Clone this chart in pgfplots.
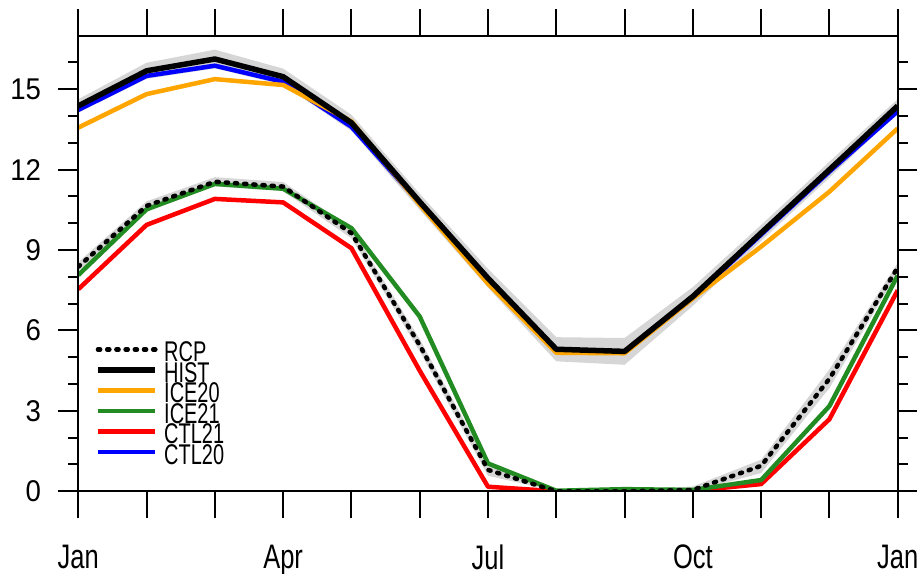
\documentclass[border=0pt]{standalone}
\usepackage{fontspec}
\setmainfont{Liberation Sans}
\newfontfamily\yfont[FakeStretch=0.92]{Liberation Sans}
\newfontfamily\xfont[FakeStretch=0.75]{Liberation Sans}
\newfontfamily\legfont[FakeStretch=0.70]{Liberation Sans}
\usepackage{pgfplots}
\pgfplotsset{compat=1.18}
\definecolor{ncorange}{HTML}{FFA500}
\definecolor{ncgreen}{HTML}{228B22}
\definecolor{ncred}{HTML}{FF0000}
\definecolor{ncblue}{HTML}{0000FF}
\definecolor{ncband}{HTML}{D6D6D6}
\begin{document}
\begin{tikzpicture}
\useasboundingbox (0,0) rectangle (917bp,574bp);
% main axis: data, y ticks, legend
\begin{axis}[
  at={(78.3bp,82.7bp)}, anchor=south west,
  scale only axis, width=819.4bp, height=455.6bp,
  xmin=0, xmax=12, ymin=0, ymax=17,
  axis line style={line width=2bp},
  tick align=outside, tick pos=both,
  xtick=\empty,
  ytick={0,3,...,15},
  minor ytick={1,2,4,5,7,8,10,11,13,14,16},
  major tick length=20bp, minor tick length=10bp,
  every tick/.style={line width=2bp, black},
  /pgf/number format/assume math mode=true,
  yticklabel style={font=\fontsize{30bp}{30bp}\selectfont\yfont, inner sep=0pt, xshift=-17bp},
  reverse legend,
  legend style={at={(axis cs:0.245,5.76)}, anchor=north west, draw=none, fill=none, inner sep=0pt,
    column sep=6bp, row sep=-4.3bp,
    font=\fontsize{28.5bp}{28.5bp}\selectfont\legfont,
    nodes={inner sep=0pt, text height=24.8bp, text depth=0bp}},
  legend cell align=left,
  legend image code/.code={\draw[#1] (2.25bp,0bp) -- (59.75bp,0bp);},
]
% HIST spread band
\addplot[fill=ncband, draw=none, forget plot] coordinates {
 (0,14.63)(1,15.99)(2,16.48)(3,15.77)(4,14.05)(5,11.1)(6,8.3)(7,5.75)(8,5.72)(9,7.62)(10,9.94)(11,12.3)(12,14.63)
 (12,14.13)(11,11.7)(10,9.34)(9,6.92)(8,4.72)(7,4.85)(6,7.6)(5,10.5)(4,13.45)(3,15.17)(2,15.78)(1,15.39)(0,14.13)} -- cycle;
% RCP spread band
\addplot[fill=ncband, draw=none, forget plot] coordinates {
 (0,8.55)(1,10.82)(2,11.72)(3,11.54)(4,9.82)(5,5.68)(6,1.02)(7,0.06)(8,0.06)(9,0.18)(10,1.18)(11,4.55)(12,8.52)
 (12,8.18)(11,3.85)(10,0.68)(9,0)(8,0)(7,0)(6,0.58)(5,5.22)(4,9.44)(3,11.2)(2,11.38)(1,10.48)(0,8.21)} -- cycle;
% CTL20
\addplot[ncblue, line width=4.5bp, line join=round] coordinates {
 (0,14.23)(1,15.50)(2,15.88)(3,15.28)(4,13.60)(5,10.75)(6,7.90)(7,5.28)(8,5.20)(9,7.22)(10,9.58)(11,11.93)(12,14.18)};
\addlegendentry{CTL20}
% CTL21
\addplot[ncred, line width=4.5bp, line join=round] coordinates {
 (0,7.54)(1,9.94)(2,10.91)(3,10.78)(4,9.07)(5,4.50)(6,0.17)(7,0.0)(8,0.0)(9,0.02)(10,0.27)(11,2.69)(12,7.50)};
\addlegendentry{CTL21}
% ICE21
\addplot[ncgreen, line width=4.5bp, line join=round] coordinates {
 (0,8.07)(1,10.52)(2,11.47)(3,11.29)(4,9.82)(5,6.52)(6,1.04)(7,0.02)(8,0.08)(9,0.05)(10,0.42)(11,3.18)(12,8.05)};
\addlegendentry{ICE21}
% ICE20
\addplot[ncorange, line width=4.5bp, line join=round] coordinates {
 (0,13.57)(1,14.82)(2,15.38)(3,15.16)(4,13.80)(5,10.70)(6,7.75)(7,5.17)(8,5.15)(9,7.20)(10,9.13)(11,11.18)(12,13.54)};
\addlegendentry{ICE20}
% HIST
\addplot[black, line width=5.5bp, line join=round] coordinates {
 (0,14.38)(1,15.69)(2,16.13)(3,15.47)(4,13.75)(5,10.80)(6,7.95)(7,5.30)(8,5.22)(9,7.27)(10,9.64)(11,12.00)(12,14.38)};
\addlegendentry{HIST}
% RCP
\addplot[black, line width=4.5bp, line cap=round, dash pattern=on 2.2bp off 7bp] coordinates {
 (0,8.38)(1,10.65)(2,11.55)(3,11.37)(4,9.63)(5,5.45)(6,0.80)(7,0.0)(8,0.0)(9,0.05)(10,0.95)(11,4.20)(12,8.35)};
\addlegendentry{RCP}
\end{axis}
% second axis: month ticks
\begin{axis}[
  at={(78.3bp,82.7bp)}, anchor=south west,
  scale only axis, width=819.4bp, height=455.6bp,
  xmin=0, xmax=12, ymin=0, ymax=17,
  axis line style={line width=2bp},
  tick align=outside, tick pos=both,
  ytick=\empty,
  xtick={0,1,...,12},
  xticklabels={Jan,,,Apr,,,Jul,,,Oct,,,Jan},
  major tick length=26.5bp,
  every tick/.style={line width=2bp, black},
  xticklabel style={font=\fontsize{34bp}{34bp}\selectfont\xfont, inner sep=0pt, yshift=-27bp},
]
\end{axis}
\end{tikzpicture}
\end{document}
